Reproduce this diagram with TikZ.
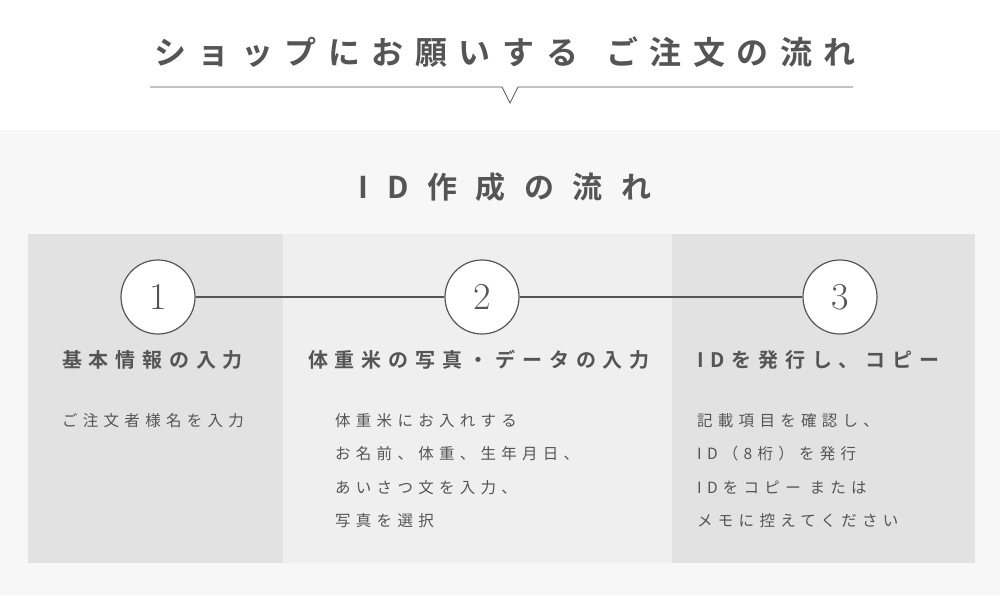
\documentclass[tikz,border=0pt]{standalone}
\usepackage{fontspec}
\newfontfamily\jptitle[LetterSpace=36]{Noto Sans CJK JP Bold}
\newfontfamily\jpsub[LetterSpace=62]{Noto Sans CJK JP Bold}
\newfontfamily\jpfont[LetterSpace=34]{Noto Sans CJK JP Bold}
\newfontfamily\jpbody[LetterSpace=34]{Noto Sans CJK JP}
\usetikzlibrary{positioning}
\definecolor{ink}{HTML}{555555}
\definecolor{bgpale}{HTML}{F7F7F7}
\definecolor{panedark}{HTML}{E2E2E2}
\definecolor{panelight}{HTML}{EFEFEF}
\tikzset{
  stepcircle/.style={circle, draw=ink, line width=1.2pt, fill=white, minimum size=74pt, inner sep=0pt, text=ink, font=\fontsize{38}{38}\selectfont},
  stephead/.style={anchor=west, text=ink, font=\jpfont\fontsize{20}{20}\selectfont, inner sep=0pt},
  stepbody/.style={anchor=north west, text=ink, align=left, font=\jpbody\fontsize{15.5}{33.5}\selectfont, inner sep=0pt}
}
\begin{document}
\begin{tikzpicture}[x=1pt,y=-1pt]
  % background areas
  \useasboundingbox (0,0) rectangle (1000,595);
  \fill[white] (0,0) rectangle (1000,130);
  \fill[bgpale] (0,130) rectangle (1000,595);
  \fill[panedark] (28,234) rectangle (283,563);
  \fill[panelight] (283,234) rectangle (672,563);
  \fill[panedark] (672,234) rectangle (975,563);

  % headline with notched rule
  \node[text=ink, font=\jptitle\fontsize{32}{32}\selectfont] (title) at (505,52) {ショップにお願いする\hspace{28pt}ご注文の流れ};
  \draw[ink, line width=0.8pt] (150,87) -- (502,87) -- (510,103) -- (518,87) -- (853,87);

  \node[text=ink, font=\jpsub\fontsize{30}{30}\selectfont] (sub) at (505,187) {ID作成の流れ};

  % steps
  \node[stepcircle] (s1) at (158,297) {1};
  \node[stepcircle] (s2) at (482,297) {2};
  \node[stepcircle] (s3) at (840,297) {3};
  \draw[ink, line width=1.2pt] (s1) -- (s2) -- (s3);

  \node[stephead] (h1) at (62,360) {基本情報の入力};
  \node[stephead] (h2) at (308,360) {体重米の写真・データの入力};
  \node[stephead] (h3) at (697,360) {IDを発行し、コピー};

  \node[stepbody] (b1) at (62,413) {ご注文者様名を入力};
  \node[stepbody] (b2) at (335,413) {体重米にお入れする\\お名前、体重、生年月日、\\あいさつ文を入力、\\写真を選択};
  \node[stepbody] (b3) at (697,413) {記載項目を確認し、\\ID（8桁）を発行\\IDをコピー または\\メモに控えてください};
\end{tikzpicture}
\end{document}
